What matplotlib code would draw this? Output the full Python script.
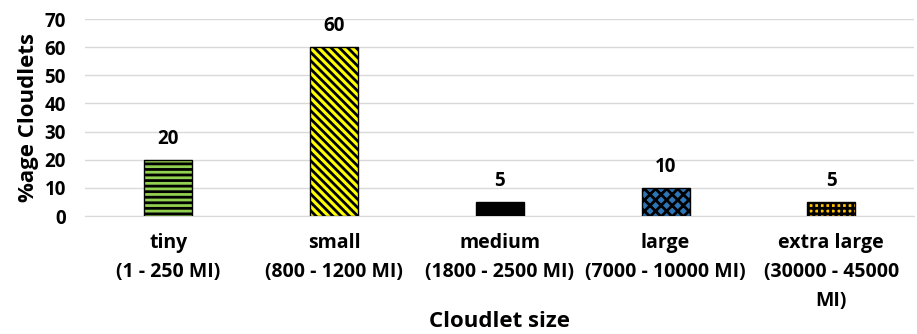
import matplotlib.pyplot as plt

plt.rcParams['font.family'] = ['Open Sans', 'DejaVu Sans']
plt.rcParams['font.weight'] = 'bold'
plt.rcParams['hatch.linewidth'] = 2.0

categories = ['tiny\n(1 - 250 MI)', 'small\n(800 - 1200 MI)', 'medium\n(1800 - 2500 MI)',
              'large\n(7000 - 10000 MI)', 'extra large\n(30000 - 45000\nMI)']
values = [20, 60, 5, 10, 5]
colors = ['#92D050', '#FFFF00', '#000000', '#2E75B6', '#FFC000']
hatches = ['---', '\\\\\\\\', '', 'xxx', '+++']

fig, ax = plt.subplots(figsize=(9.17, 3.34), dpi=100)
fig.subplots_adjust(left=0.093, right=0.997, top=0.943, bottom=0.353)

x = range(len(categories))
bars = ax.bar(x, values, width=0.29, color=colors, edgecolor='black', linewidth=1.0, zorder=3)
for b, h in zip(bars, hatches):
    b.set_hatch(h)

for xi, v in zip(x, values):
    ax.text(xi, v + 4, str(v), ha='center', va='bottom', fontsize=13.5, fontweight='bold')

ax.set_xlim(-0.5, len(categories) - 0.5)
ax.set_ylim(0, 70)
ax.set_yticks(range(0, 71, 10))
ax.set_xticks(list(x))
ax.set_xticklabels(categories, fontsize=14, fontweight='bold', linespacing=1.6)
ax.tick_params(axis='both', length=0, labelsize=13.5)
ax.tick_params(axis='x', pad=12, labelsize=14)
ax.tick_params(axis='y', pad=14)
ax.yaxis.grid(True, color='#D9D9D9', linewidth=1.0, zorder=0)
for s in ['top', 'right', 'left']:
    ax.spines[s].set_visible(False)
ax.spines['bottom'].set_color('#D9D9D9')
ax.set_ylabel('%age Cloudlets', fontsize=16, fontweight='bold', labelpad=4)
ax.set_xlabel('Cloudlet size', fontsize=16, fontweight='bold', labelpad=0)

fig.savefig('out.png')
